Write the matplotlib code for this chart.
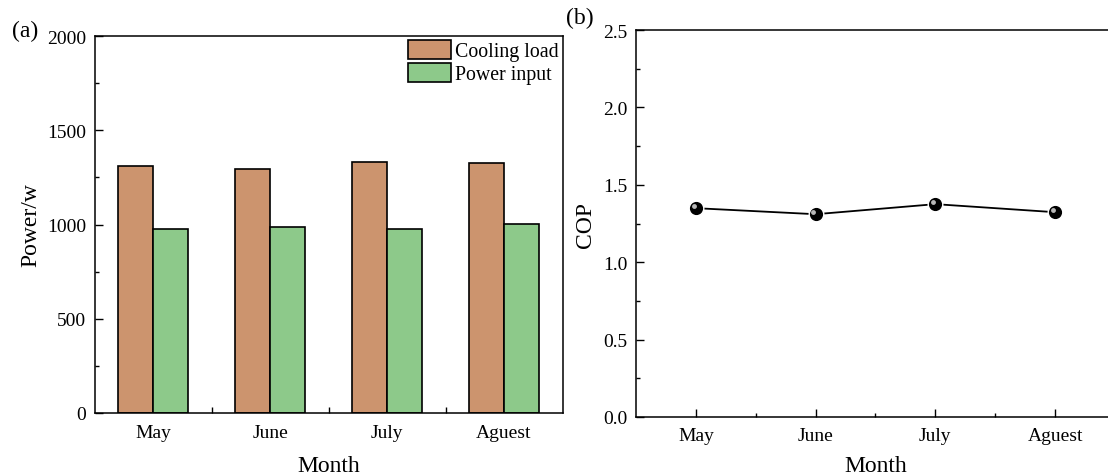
import matplotlib
matplotlib.use("Agg")
import matplotlib.pyplot as plt
import matplotlib.transforms as mtransforms
import numpy as np

plt.rcParams["font.family"] = ["Liberation Serif", "DejaVu Serif"]
plt.rcParams["font.size"] = 14

months = ["May", "June", "July", "Aguest"]
cooling_load = [1311, 1292, 1333, 1326]
power_input = [974, 988, 974, 1002]
cop = [1.349, 1.310, 1.375, 1.323]

cool_color = "#CC946E"
power_color = "#8DC98A"

fig = plt.figure(figsize=(11.08, 4.77), dpi=100)
ax1 = fig.add_axes([0.0854, 0.1321, 0.4223, 0.7903])
ax2 = fig.add_axes([0.574, 0.1237, 0.4323, 0.8113])

x = np.arange(1, len(months) + 1)
w = 0.3

# (a) bars
ax1.bar(x - w / 2, cooling_load, width=w, color=cool_color, edgecolor="black",
        linewidth=1.2, label="Cooling load")
ax1.bar(x + w / 2, power_input, width=w, color=power_color, edgecolor="black",
        linewidth=1.2, label="Power input")
ax1.set_xlim(0.5, 4.5)
ax1.set_ylim(0, 2000)
ax1.set_yticks([0, 500, 1000, 1500, 2000])
ax1.set_yticks(np.arange(0, 2001, 250), minor=True)
ax1.set_xticks(x)
ax1.set_xticklabels(months)
ax1.set_xticks([1.5, 2.5, 3.5], minor=True)
ax1.tick_params(axis="x", which="major", length=0, pad=8)
ax1.tick_params(axis="x", which="minor", direction="in", length=4, width=1)
ax1.tick_params(axis="y", which="major", direction="in", length=6, width=1, pad=6)
ax1.tick_params(axis="y", which="minor", direction="in", length=3, width=1)
ax1.set_xlabel("Month", fontsize=17, labelpad=10)
ax1.set_ylabel("Power/w", fontsize=17, labelpad=4)
ax1.legend(loc="upper right", frameon=False, fontsize=14.3, handlelength=2.15,
           handleheight=1.1, labelspacing=0.08, borderaxespad=0.15, borderpad=0.05,
           handletextpad=0.2)

# (b) COP line
ax2.plot(x, cop, color="black", linewidth=1.3, zorder=2)
ax2.plot(x, cop, linestyle="none", marker="o", markersize=10.5, color="black",
         markeredgecolor="white", markeredgewidth=1.0, zorder=3)
shift = mtransforms.ScaledTranslation(-1.6 / 72, 1.6 / 72, fig.dpi_scale_trans)
ax2.plot(x, cop, linestyle="none", marker="o", markersize=3.5, color="#B8B8B8",
         markeredgewidth=0, zorder=4, transform=ax2.transData + shift)
ax2.set_xlim(0.5, 4.5)
ax2.set_ylim(0, 2.5)
ax2.set_yticks([0, 0.5, 1.0, 1.5, 2.0, 2.5])
ax2.set_yticklabels(["0.0", "0.5", "1.0", "1.5", "2.0", "2.5"])
ax2.set_yticks(np.arange(0, 2.51, 0.25), minor=True)
ax2.set_xticks(x)
ax2.set_xticklabels(months)
ax2.set_xticks([1.5, 2.5, 3.5], minor=True)
ax2.tick_params(axis="both", which="major", direction="in", length=6, width=1)
ax2.tick_params(axis="both", which="minor", direction="in", length=3, width=1)
ax2.tick_params(axis="x", which="major", pad=7)
ax2.tick_params(axis="y", which="major", pad=6)
ax2.set_xlabel("Month", fontsize=17, labelpad=8)
ax2.set_ylabel("COP", fontsize=17, labelpad=5)

for ax in (ax1, ax2):
    for s in ax.spines.values():
        s.set_linewidth(1.1)

fig.text(0.0108, 0.935, "(a)", fontsize=17, va="center", ha="left")
fig.text(0.511, 0.962, "(b)", fontsize=17, va="center", ha="left")

fig.savefig("out.png", dpi=100)
